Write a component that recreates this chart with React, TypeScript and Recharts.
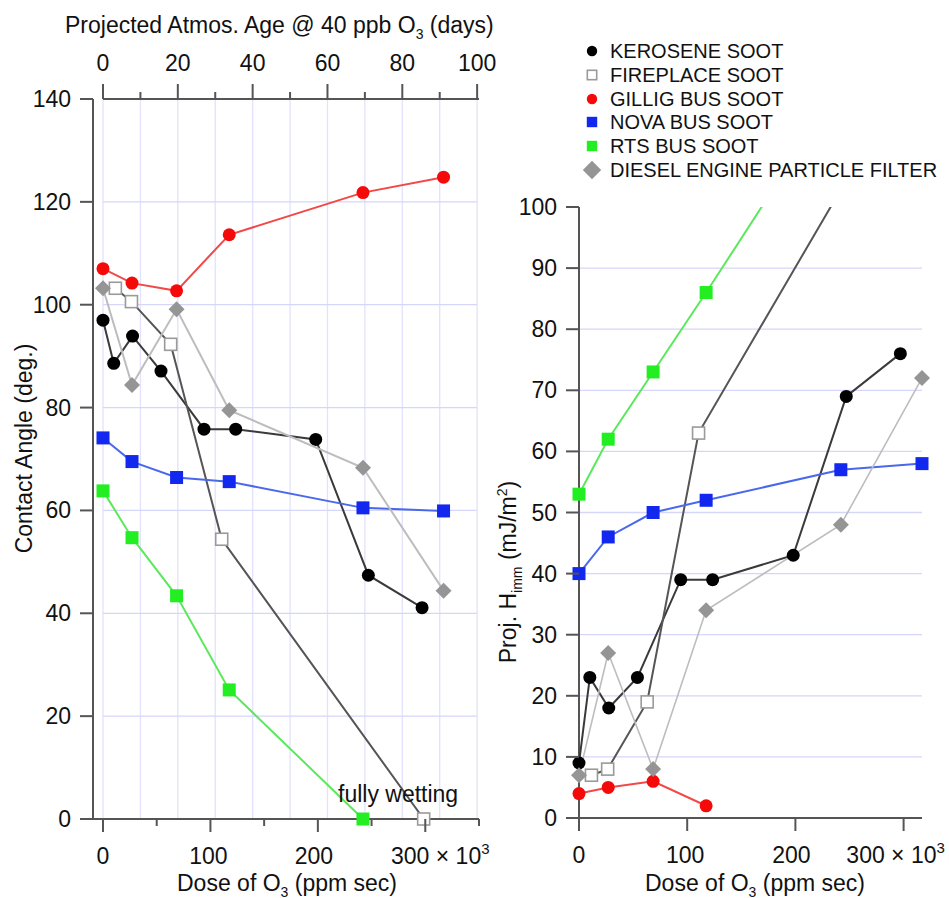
import React from "react";
import { CartesianGrid, ReferenceLine, Scatter, ScatterChart, XAxis, YAxis } from "recharts";

const FONT = '"Liberation Sans", Arial, Helvetica, sans-serif';
const TEXT = "#111";
const AXIS = "#555";
const GRID_H = "#d6d6fa";
const GRID_V = "#e2e2fc";

// dose of O3 in 10^3 ppm sec
const KEROSENE_DOSE = [0, 10, 27.5, 54, 94, 123.5, 198, 247, 297];
const FIREPLACE_DOSE = [11.5, 26.5, 63, 110.5, 298.5];
const BUS_DOSE = [0, 27, 68.5, 117.5, 242, 317];

// contact angle (deg.)
const KEROSENE_ANGLE = [97, 88.6, 93.9, 87.1, 75.8, 75.8, 73.8, 47.4, 41.1];
const FIREPLACE_ANGLE = [103.2, 100.6, 92.3, 54.4, 0];
const GILLIG_ANGLE = [107, 104.2, 102.7, 113.6, 121.8, 124.8];
const NOVA_ANGLE = [74.1, 69.5, 66.4, 65.6, 60.5, 59.9];
const RTS_ANGLE = [63.8, 54.7, 43.4, 25.1, 0];
const DIESEL_ANGLE = [103.2, 84.4, 99.1, 79.5, 68.3, 44.4];

// projected H_imm (mJ/m2)
const KEROSENE_HIMM = [9, 23, 18, 23, 39, 39, 43, 69, 76];
const FIREPLACE_HIMM = [7, 8, 19, 63, 120];
const GILLIG_HIMM = [4, 5, 6, 2];
const NOVA_HIMM = [40, 46, 50, 52, 57, 58];
const RTS_HIMM = [53, 62, 73, 86, 120];
const DIESEL_HIMM = [7, 27, 8, 34, 48, 72];

const ANGLE_TICKS = [0, 20, 40, 60, 80, 100, 120, 140];
const ANGLE_GRID = [20, 40, 60, 80, 100, 120];
const HIMM_TICKS = [0, 10, 20, 30, 40, 50, 60, 70, 80, 90, 100];
const HIMM_GRID = [10, 20, 30, 40, 50, 60, 70, 80, 90];
const DAYS_TICKS = [0, 10, 20, 30, 40, 50, 60, 70, 80, 90, 100];
const DOSE_TICKS_LEFT = [0, 50, 100, 150, 200, 250, 300, 350];
const DOSE_TICKS_RIGHT = [0, 100, 200, 300];

type Pt = { x: number; y: number };
type Kind = "circle" | "open" | "square" | "diamond";

const toPoints = (xs: number[], ys: number[]): Pt[] => ys.map((y, i) => ({ x: xs[i], y }));

type Series = {
  name: string;
  kind: Kind;
  fill: string;
  line: string;
  angle: Pt[];
  himm: Pt[];
};

const SERIES: Series[] = [
  { name: "KEROSENE SOOT", kind: "circle", fill: "#000", line: "#3a3a3a", angle: toPoints(KEROSENE_DOSE, KEROSENE_ANGLE), himm: toPoints(KEROSENE_DOSE, KEROSENE_HIMM) },
  { name: "FIREPLACE SOOT", kind: "open", fill: "#fff", line: "#555", angle: toPoints(FIREPLACE_DOSE, FIREPLACE_ANGLE), himm: toPoints(FIREPLACE_DOSE, FIREPLACE_HIMM) },
  { name: "GILLIG BUS SOOT", kind: "circle", fill: "#f50a0a", line: "#f24848", angle: toPoints(BUS_DOSE, GILLIG_ANGLE), himm: toPoints(BUS_DOSE, GILLIG_HIMM) },
  { name: "NOVA BUS SOOT", kind: "square", fill: "#1228ee", line: "#4a68ec", angle: toPoints(BUS_DOSE, NOVA_ANGLE), himm: toPoints(BUS_DOSE, NOVA_HIMM) },
  { name: "RTS BUS SOOT", kind: "square", fill: "#22ee22", line: "#5ce85c", angle: toPoints(BUS_DOSE, RTS_ANGLE), himm: toPoints(BUS_DOSE, RTS_HIMM) },
  { name: "DIESEL ENGINE PARTICLE FILTER", kind: "diamond", fill: "#959595", line: "#bdbdbd", angle: toPoints(BUS_DOSE, DIESEL_ANGLE), himm: toPoints(BUS_DOSE, DIESEL_HIMM) },
];

// anchor points so the day axis (no series of its own) gets a scale
const DAYS_ANCHOR: Pt[] = DAYS_TICKS.map((d) => ({ x: d, y: 0 }));

function Marker({ cx, cy, kind, fill, scale = 1 }: { cx?: number; cy?: number; kind: Kind; fill: string; scale?: number }) {
  if (cx == null || cy == null || Number.isNaN(cx) || Number.isNaN(cy)) return <g />;
  const h = 6.5 * scale;
  if (kind === "circle") return <circle cx={cx} cy={cy} r={h} fill={fill} />;
  if (kind === "square") return <rect x={cx - h} y={cy - h} width={2 * h} height={2 * h} fill={fill} />;
  if (kind === "open")
    return <rect x={cx - h + 0.5} y={cy - h + 0.5} width={2 * h - 1} height={2 * h - 1} fill="#fff" stroke="#9a9a9a" strokeWidth={1.6} />;
  const d = 8 * scale;
  return <polygon points={`${cx},${cy - d} ${cx + d},${cy} ${cx},${cy + d} ${cx - d},${cy}`} fill={fill} />;
}

const textProps = { fontFamily: FONT, fontSize: 23, fill: TEXT };

function YTick(props: any) {
  const { x, y, payload } = props;
  return (
    <g>
      <line x1={x} x2={x - 13} y1={y} y2={y} stroke={AXIS} strokeWidth={2} />
      <text {...textProps} x={x - 22} y={y + 8} textAnchor="end">
        {payload.value}
      </text>
    </g>
  );
}

function DoseTick(props: any) {
  const { x, y, payload, shift } = props;
  const v = payload.value as number;
  const major = v % 100 === 0;
  return (
    <g>
      <line x1={x} x2={x} y1={y} y2={y + (major ? 13 : 7)} stroke={AXIS} strokeWidth={2} />
      {major && v === 300 && (
        <text {...textProps} x={x + shift} y={y + 45} textAnchor="middle">
          300 × 10
          <tspan dy={-10} fontSize={15}>
            3
          </tspan>
        </text>
      )}
      {major && v !== 300 && (
        <text {...textProps} x={x - (v / 100) * 2} y={y + 45} textAnchor="middle">
          {v}
        </text>
      )}
    </g>
  );
}

function DaysTick(props: any) {
  const { x, y, payload } = props;
  const v = payload.value as number;
  const major = v % 20 === 0;
  return (
    <g>
      <line x1={x} x2={x} y1={y} y2={y - (major ? 15 : 7)} stroke={AXIS} strokeWidth={2} />
      {major && (
        <text {...textProps} x={x} y={y - 28} textAnchor="middle">
          {v}
        </text>
      )}
    </g>
  );
}

const abs = (left: number, top: number): React.CSSProperties => ({
  position: "absolute",
  left,
  top,
  fontFamily: FONT,
  fontSize: 23,
  lineHeight: "23px",
  color: TEXT,
  whiteSpace: "nowrap",
});

const sub: React.CSSProperties = { fontSize: 14, position: "relative", top: 6, verticalAlign: "baseline" };
const sup: React.CSSProperties = { fontSize: 14, position: "relative", top: -9, verticalAlign: "baseline" };

function Centered({ cx, cy, rotate, children }: { cx: number; cy: number; rotate?: boolean; children: React.ReactNode }) {
  return (
    <div style={{ ...abs(cx, cy - 11.5), transform: rotate ? "translate(-50%, 0) rotate(-90deg)" : "translate(-50%, 0)", transformOrigin: "50% 50%" }}>
      {children}
    </div>
  );
}

function LeftChart() {
  return (
    <ScatterChart width={500} height={898} margin={{ top: 39, right: 21, bottom: 19, left: 0 }}>
      <CartesianGrid
        xAxisId="days"
        yAxisId="angle"
        x={103}
        width={374}
        horizontalValues={ANGLE_GRID}
        horizontal={false}
        verticalValues={DAYS_TICKS}
        stroke={GRID_V}
        strokeWidth={1.3}
      />
      <CartesianGrid
        xAxisId="days"
        yAxisId="angle"
        x={103}
        width={374}
        horizontalValues={ANGLE_GRID}
        vertical={false}
        stroke={GRID_H}
        strokeWidth={1.3}
      />
      <XAxis
        xAxisId="dose"
        dataKey="x"
        type="number"
        orientation="bottom"
        domain={[0, 350]}
        ticks={DOSE_TICKS_LEFT}
        interval={0}
        padding={{ left: 10, right: 0 }}
        height={60}
        axisLine={{ stroke: AXIS, strokeWidth: 2 }}
        tickLine={false}
        tickSize={0}
        tickMargin={0}
        tick={(p: any) => <DoseTick {...p} shift={15} />}
      />
      <XAxis
        xAxisId="days"
        dataKey="x"
        type="number"
        orientation="top"
        domain={[0, 100.5]}
        ticks={DAYS_TICKS}
        interval={0}
        padding={{ left: 10, right: 0 }}
        height={60}
        axisLine={false}
        tickLine={false}
        tickSize={0}
        tickMargin={0}
        tick={(p: any) => <DaysTick {...p} />}
        allowDataOverflow
      />
      <YAxis
        yAxisId="angle"
        dataKey="y"
        type="number"
        domain={[0, 140]}
        ticks={ANGLE_TICKS}
        interval={0}
        width={93}
        axisLine={{ stroke: AXIS, strokeWidth: 2 }}
        tickLine={false}
        tickSize={0}
        tickMargin={0}
        tick={(p: any) => <YTick {...p} />}
      />
      <ReferenceLine
        xAxisId="dose"
        yAxisId="angle"
        segment={[
          { x: 0, y: 140 },
          { x: 350, y: 140 },
        ]}
        stroke={AXIS}
        strokeWidth={2}
      />
      <Scatter xAxisId="days" yAxisId="angle" data={DAYS_ANCHOR} shape={() => <g />} isAnimationActive={false} />
      {SERIES.map((s) => (
        <Scatter
          key={s.name}
          name={s.name}
          xAxisId="dose"
          yAxisId="angle"
          data={s.angle}
          line={{ stroke: s.line, strokeWidth: 2 }}
          lineType="joint"
          shape={(p: any) => <Marker cx={p.cx} cy={p.cy} kind={s.kind} fill={s.fill} />}
          isAnimationActive={false}
        />
      ))}
    </ScatterChart>
  );
}

function RightChart() {
  return (
    <ScatterChart width={449} height={898} margin={{ top: 207, right: 27, bottom: 20, left: 0 }}>
      <CartesianGrid yAxisId="himm" xAxisId="dose" horizontalValues={HIMM_GRID} vertical={false} stroke={GRID_H} strokeWidth={1.3} />
      <XAxis
        xAxisId="dose"
        dataKey="x"
        type="number"
        orientation="bottom"
        domain={[0, 317]}
        ticks={DOSE_TICKS_RIGHT}
        interval={0}
        height={60}
        axisLine={{ stroke: AXIS, strokeWidth: 2 }}
        tickLine={false}
        tickSize={0}
        tickMargin={0}
        tick={(p: any) => <DoseTick {...p} shift={-8} />}
      />
      <YAxis
        yAxisId="himm"
        dataKey="y"
        type="number"
        domain={[0, 100]}
        ticks={HIMM_TICKS}
        interval={0}
        width={79}
        axisLine={{ stroke: AXIS, strokeWidth: 2 }}
        tickLine={false}
        tickSize={0}
        tickMargin={0}
        tick={(p: any) => <YTick {...p} />}
      />
      <YAxis yAxisId="clip" dataKey="y" type="number" orientation="right" width={0} domain={[0, 100]} allowDataOverflow hide />
      {SERIES.map((s) => (
        <Scatter
          key={s.name + "-line"}
          xAxisId="dose"
          yAxisId="clip"
          data={s.himm}
          line={{ stroke: s.line, strokeWidth: s.kind === "diamond" ? 1.6 : 2 }}
          lineType="joint"
          shape={() => <g />}
          isAnimationActive={false}
        />
      ))}
      {SERIES.map((s) => (
        <Scatter
          key={s.name}
          name={s.name}
          xAxisId="dose"
          yAxisId="himm"
          data={s.himm.filter((p) => p.y <= 100)}
          shape={(p: any) => <Marker cx={p.cx} cy={p.cy} kind={s.kind} fill={s.fill} />}
          isAnimationActive={false}
        />
      ))}
    </ScatterChart>
  );
}

function LegendBox() {
  return (
    <>
      {SERIES.map((s, i) => {
        const cy = 51 + i * 23.8;
        return (
          <div key={s.name} style={{ ...abs(580, cy - 12), fontSize: 20, lineHeight: "24px", height: 24 }}>
            <svg width={24} height={24} style={{ position: "absolute", left: 0, top: 0 }}>
              <Marker cx={12} cy={12} kind={s.kind} fill={s.fill} scale={s.kind === "diamond" ? 1.15 : 0.8} />
            </svg>
            <span style={{ position: "absolute", left: 30, top: 0 }}>{s.name}</span>
          </div>
        );
      })}
    </>
  );
}

export default function App() {
  return (
    <div style={{ position: "absolute", left: 0, top: 0, width: 949, height: 898, background: "#fff", overflow: "hidden" }}>
      <div style={{ position: "absolute", left: 0, top: 0 }}>
        <LeftChart />
      </div>
      <div style={{ position: "absolute", left: 500, top: 0 }}>
        <RightChart />
      </div>
      <div style={abs(65, 14)}>
        Projected Atmos. Age @ 40 ppb O<span style={sub}>3</span> (days)
      </div>
      <Centered cx={287} cy={883}>
        Dose of O<span style={sub}>3</span> (ppm sec)
      </Centered>
      <Centered cx={755} cy={883}>
        Dose of O<span style={sub}>3</span> (ppm sec)
      </Centered>
      <Centered cx={24} cy={448} rotate>
        Contact Angle (deg.)
      </Centered>
      <Centered cx={510} cy={570} rotate>
        Proj. H<span style={sub}>imm</span> (mJ/m<span style={sup}>2</span>)
      </Centered>
      <div style={abs(338, 783)}>fully wetting</div>
      <LegendBox />
    </div>
  );
}
